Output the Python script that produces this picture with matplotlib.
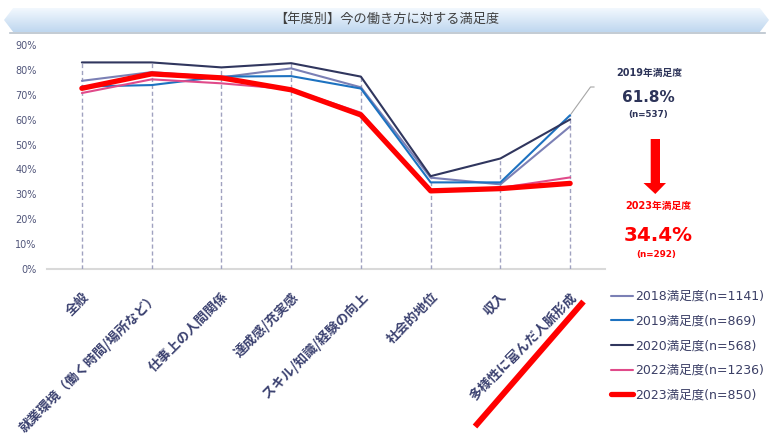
import numpy as np
import matplotlib
matplotlib.use('Agg')
import matplotlib.pyplot as plt
from matplotlib.patches import Polygon
from matplotlib.lines import Line2D

plt.rcParams['font.family'] = ['DejaVu Sans', 'Noto Sans CJK JP']

W, H = 769, 447

def fx(x):
    return x / W

def fy(y):
    return 1 - y / H

# data (satisfaction, %)
categories = ['全般', '就業環境（働く時間/場所など）', '仕事上の人間関係', '達成感/充実感',
              'スキル/知識/経験の向上', '社会的地位', '収入', '多様性に富んだ人脈形成']
s2018 = [75.6, 79.1, 77.0, 80.6, 73.0, 36.7, 34.0, 57.3]
s2019 = [73.3, 73.9, 77.3, 77.5, 72.5, 34.8, 34.8, 61.8]
s2020 = [83.0, 83.0, 81.0, 82.7, 77.3, 37.3, 44.4, 60.1]
s2022 = [70.7, 76.2, 74.6, 72.2, 62.8, 31.7, 32.6, 36.8]
s2023 = [72.6, 78.4, 76.8, 72.0, 61.9, 31.4, 32.3, 34.4]
labels = ['2018満足度(n=1141)', '2019満足度(n=869)', '2020満足度(n=568)',
          '2022満足度(n=1236)', '2023満足度(n=850)']
colors = ['#7b80b5', '#1d72c0', '#30365e', '#e04a8a', '#ff0000']
widths = [1.5, 1.5, 1.5, 1.5, 3.8]

fig = plt.figure(figsize=(W / 100, H / 100), dpi=100)

# title banner
bax = fig.add_axes([fx(4), fy(32), (W - 4) / W, 24 / H])
grad = np.linspace(0, 1, 50).reshape(-1, 1)
im = bax.imshow(grad, cmap=matplotlib.colors.LinearSegmentedColormap.from_list('b', ['#f2f8fe', '#bfd7ef']),
                aspect='auto', extent=[0, 1, 0, 1], origin='upper')
clip = Polygon([(0, 0.5), (0.012, 1), (0.988, 1), (1, 0.5), (0.988, 0), (0.012, 0)],
               closed=True, transform=bax.transAxes, facecolor='none', edgecolor='none')
bax.add_patch(clip)
im.set_clip_path(clip)
bax.set_xlim(0, 1)
bax.set_ylim(0, 1)
bax.axis('off')
bax.text(0.5, 0.5, '【年度別】今の働き方に対する満足度', ha='center', va='center',
         fontsize=9.5, color='#404040', family=['Noto Sans CJK JP', 'DejaVu Sans'])
fig.add_artist(Line2D([fx(10), fx(765)], [fy(33), fy(33)], color='#b9c2cc', lw=1.2))

ax = fig.add_axes([fx(47), fy(269), (605 - 47) / W, (269 - 45) / H])
x = np.arange(len(categories))
series = [s2018, s2019, s2020, s2022, s2023]
lines = []
for s, c, lw, lab in zip(series, colors, widths, labels):
    ln, = ax.plot(x, np.array(s) / 100, color=c, lw=lw, label=lab, solid_capstyle='round', zorder=3)
    lines.append(ln)

# drop lines
top = np.max(np.array(series), axis=0) / 100
ax.vlines(x, 0, top, colors='#a0a2c0', linestyles=(0, (3, 2)), lw=1.0, zorder=1)

ax.set_xlim(-0.5, len(categories) - 0.5)
ax.set_ylim(0, 0.9)
ax.set_yticks(np.arange(0, 0.91, 0.1))
ax.set_yticklabels([f'{int(round(v * 100))}%' for v in np.arange(0, 0.91, 0.1)])
ax.tick_params(axis='y', length=0, labelsize=7, labelcolor='#50557a', pad=7.5)
ax.set_xticks(x)
ax.set_xticklabels(categories, rotation=45, ha='right', va='top', rotation_mode='anchor',
                   fontsize=9.5, fontweight='bold', color='#3b4170',
                   family=['Noto Sans CJK JP', 'DejaVu Sans'])
ax.tick_params(axis='x', length=0, pad=15)
for sp in ['top', 'right', 'left']:
    ax.spines[sp].set_visible(False)
ax.spines['bottom'].set_color('#d9d9d9')
ax.spines['bottom'].set_linewidth(1.5)
ax.spines['bottom'].set_zorder(0)

# callout connector
fig.add_artist(Line2D([fx(571), fx(590.5), fx(594)], [fy(114), fy(87), fy(87)], color='#a6a6a6', lw=0.8))

navy = '#2d3459'
red = '#ff0000'
fig.text(fx(649), fy(73), '2019年満足度', ha='center', va='center', fontsize=7, fontweight='bold', color=navy)
fig.text(fx(648), fy(98), '61.8%', ha='center', va='center', fontsize=11, fontweight='bold', color=navy)
fig.text(fx(648), fy(115), '(n=537)', ha='center', va='center', fontsize=6.3, fontweight='bold', color=navy)

arrow = Polygon([(fx(650.7), fy(139)), (fx(660), fy(139)), (fx(660), fy(183)), (fx(666), fy(183)),
                 (fx(655.3), fy(194)), (fx(643.5), fy(183)), (fx(650.7), fy(183))],
                closed=True, transform=fig.transFigure, facecolor=red, edgecolor='none')
fig.add_artist(arrow)

fig.text(fx(658), fy(206), '2023年満足度', ha='center', va='center', fontsize=7, fontweight='bold', color=red)
fig.text(fx(658), fy(235), '34.4%', ha='center', va='center', fontsize=14.3, fontweight='bold', color=red)
fig.text(fx(656), fy(254), '(n=292)', ha='center', va='center', fontsize=6.3, fontweight='bold', color=red)

# red underline under last category label
fig.add_artist(Line2D([fx(475), fx(583.5)], [fy(426.5), fy(301.5)], color=red, lw=4.3, solid_capstyle='butt'))

fig.legend(handles=lines, loc='upper left', bbox_to_anchor=(fx(611), fy(290)),
           bbox_transform=fig.transFigure, frameon=False, fontsize=9, labelcolor='#3b3f66',
           handlelength=1.75, handletextpad=0.15, labelspacing=0.93, borderpad=0, borderaxespad=0)

fig.savefig('out.png', dpi=100)
